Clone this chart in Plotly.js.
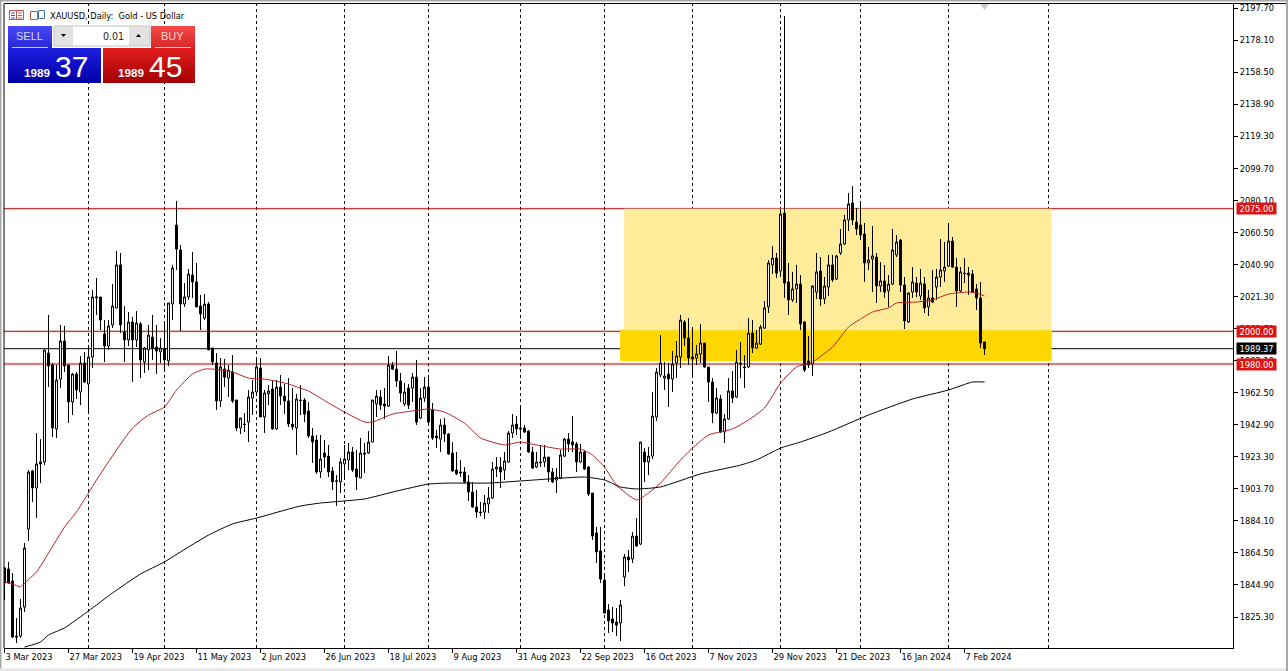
<!DOCTYPE html>
<html><head><meta charset="utf-8">
<script src="https://cdn.plot.ly/plotly-3.0.1.min.js"></script>
<style>html,body{margin:0;padding:0;background:#fff;overflow:hidden}#c{width:1288px;height:671px}</style>
</head><body><div id="c"></div>
<script>
const highs=[1855.8,1859.0,1852.2,1824.7,1836.3,1870.6,1915.2,1915.2,1937.8,1934.1,
1988.6,2010.0,1980.6,1979.4,2003.9,2003.3,1979.4,1974.5,1975.1,1984.9,
1987.4,1990.4,2025.3,2032.6,2021.0,2006.9,2006.9,2028.9,2049.1,2047.9,
2015.5,2011.8,2008.8,2012.4,2005.7,1990.4,2003.9,2010.0,2003.9,1995.9,
2006.3,2017.3,2040.6,2079.7,2052.8,2029.5,2038.1,2048.5,2041.8,2022.2,
2022.8,2017.9,1989.8,1986.7,1983.7,1983.1,1979.4,1985.5,1958.0,1947.0,
1950.0,1964.1,1970.2,1983.7,1983.7,1964.1,1967.2,1970.2,1970.2,1973.3,
1967.8,1971.4,1965.3,1961.7,1967.2,1959.2,1956.8,1940.9,1936.6,1936.6,
1933.5,1930.5,1917.0,1912.1,1922.5,1930.5,1931.7,1929.3,1927.4,1934.8,
1931.7,1939.0,1958.0,1964.1,1964.1,1965.3,1984.9,1981.2,1988.0,1974.5,
1968.4,1967.8,1974.5,1982.5,1965.3,1972.0,1971.4,1956.2,1939.7,1946.4,
1947.0,1937.8,1932.3,1926.2,1921.3,1917.0,1912.1,1907.9,1903.0,1895.6,
1899.9,1904.8,1920.1,1923.1,1923.1,1926.2,1939.0,1949.4,1948.2,1954.3,
1942.7,1939.7,1929.3,1926.2,1930.5,1930.5,1923.1,1916.4,1916.4,1927.4,
1934.8,1937.8,1948.2,1932.3,1931.1,1927.4,1917.6,1901.1,1880.3,1880.3,
1852.2,1833.2,1831.4,1830.8,1835.7,1863.8,1866.3,1877.3,1885.8,1932.3,
1928.6,1929.3,1962.9,1977.6,1997.7,1981.2,1980.6,1988.0,1994.1,2010.0,
2006.9,2008.1,2002.6,1991.6,2004.5,1992.8,1978.2,1971.4,1965.3,1961.1,
1949.4,1971.4,1975.7,1988.6,1993.5,1985.5,2008.1,2006.9,2000.8,2003.9,
2018.5,2043.6,2052.2,2047.9,2074.8,2192.8,2041.8,2036.3,2040.6,2034.4,
2006.3,1997.1,2028.3,2047.9,2045.4,2033.2,2046.7,2046.7,2046.7,2062.6,
2071.1,2084.6,2088.9,2075.4,2078.5,2066.2,2051.6,2064.4,2047.9,2042.4,
2040.6,2034.4,2062.6,2058.9,2056.4,2033.2,2024.0,2039.3,2033.2,2038.1,
2033.2,2025.3,2037.5,2038.1,2056.4,2054.6,2066.2,2057.7,2044.8,2039.3,
2044.8,2039.3,2037.5,2028.9,2030.2,1993.5];
const lows=[1835.7,1845.5,1812.5,1809.4,1812.5,1828.4,1871.8,1895.6,1885.8,1907.2,
1918.2,1966.0,1935.4,1934.8,1965.3,1975.1,1943.9,1948.8,1958.6,1954.9,
1968.4,1949.4,1977.6,2010.0,2000.8,1981.2,1988.6,2002.0,2014.0,1999.0,
1981.2,1991.0,1969.0,1990.4,1971.4,1974.5,1976.3,1982.5,1973.9,1980.6,
1976.3,1978.8,2006.9,2037.5,2000.2,2014.9,2019.2,2020.4,2014.9,2000.8,
2006.9,1988.6,1979.4,1951.9,1953.7,1966.0,1959.8,1956.2,1939.0,1937.2,
1938.4,1932.3,1948.8,1962.3,1947.6,1937.8,1954.9,1939.7,1939.7,1954.9,
1949.4,1941.5,1939.7,1924.4,1948.8,1944.5,1934.8,1919.5,1912.8,1910.3,
1916.4,1910.9,1903.0,1893.2,1901.1,1909.1,1915.2,1914.0,1903.0,1910.3,
1913.4,1925.0,1932.3,1947.6,1951.9,1946.4,1953.7,1976.3,1966.0,1956.8,
1954.3,1952.5,1956.8,1942.7,1946.4,1956.8,1943.9,1933.5,1928.6,1926.2,
1932.3,1924.4,1914.0,1912.1,1910.9,1907.2,1896.2,1892.0,1885.8,1887.0,
1885.2,1888.9,1897.5,1910.9,1904.2,1909.1,1919.5,1934.8,1936.6,1934.1,
1937.8,1925.6,1915.8,1916.4,1917.0,1917.0,1907.9,1907.2,1901.1,1909.7,
1923.1,1926.2,1926.2,1914.0,1919.5,1915.2,1899.3,1872.4,1858.3,1846.1,
1827.7,1815.5,1816.1,1813.7,1810.6,1844.2,1852.8,1858.3,1868.1,1869.3,
1907.9,1912.1,1921.9,1945.2,1972.0,1964.1,1953.7,1962.9,1971.4,1977.6,
1991.0,1979.4,1972.0,1979.4,1980.6,1977.6,1956.8,1943.9,1949.4,1937.8,
1931.7,1945.8,1956.2,1959.2,1971.4,1965.3,1977.6,1986.7,1989.2,1991.6,
2001.4,2011.2,2035.0,2032.6,2033.2,2020.4,2010.0,2017.9,2017.3,2000.8,
1975.1,1977.6,1972.7,2019.8,2015.5,2016.7,2021.6,2030.2,2031.4,2046.7,
2052.8,2061.3,2065.0,2058.9,2055.8,2030.2,2037.5,2024.0,2017.3,2024.0,
2020.4,2014.9,2028.3,2045.4,2024.0,2001.4,2005.1,2020.4,2021.0,2019.2,
2011.2,2009.4,2017.3,2019.2,2027.1,2030.2,2039.3,2038.7,2014.9,2024.0,
2029.5,2022.2,2023.4,2013.0,1989.8,1985.5];
const opens=[1855.3,1854.6,1847.3,1813.7,1813.7,1831.4,1879.1,1914.6,1904.2,1920.1,
1920.1,1986.7,1979.4,1940.3,1970.8,1994.1,1979.4,1956.8,1973.9,1962.9,
1980.6,1967.8,1984.3,2020.4,2021.0,1998.4,1991.0,2003.9,2014.3,2040.6,
1999.6,1994.7,2005.7,1994.7,2004.5,1981.2,1988.6,1996.5,1990.4,1987.4,
1989.2,1981.9,2016.7,2065.0,2049.7,2016.7,2021.0,2034.4,2030.2,2015.5,
2008.1,2016.7,1989.8,1980.6,1957.4,1976.9,1971.4,1975.1,1958.0,1940.9,
1943.3,1944.5,1959.2,1962.9,1977.6,1947.6,1961.7,1964.7,1940.3,1965.9,
1960.4,1957.4,1943.3,1940.9,1958.0,1958.0,1951.3,1936.0,1933.5,1914.0,
1925.6,1923.7,1914.6,1908.2,1907.9,1918.9,1921.3,1926.2,1915.8,1910.3,
1925.6,1925.6,1932.3,1955.6,1959.8,1955.6,1954.3,1979.4,1976.9,1969.6,
1955.6,1965.3,1965.3,1972.0,1947.0,1959.2,1965.9,1951.9,1936.0,1934.1,
1942.7,1937.2,1925.6,1915.2,1914.0,1914.0,1907.9,1901.7,1892.6,1889.5,
1889.5,1894.4,1898.1,1915.8,1917.0,1915.2,1920.1,1937.8,1943.3,1940.9,
1940.9,1939.0,1926.2,1917.0,1920.1,1920.1,1923.1,1914.0,1909.1,1910.3,
1923.7,1934.1,1932.3,1931.1,1920.1,1926.2,1917.0,1901.1,1876.7,1865.7,
1847.9,1829.6,1824.1,1822.2,1821.6,1849.8,1862.0,1860.8,1874.8,1869.9,
1926.2,1920.1,1923.7,1947.6,1973.3,1971.4,1973.9,1970.8,1980.6,1984.3,
2005.7,1995.9,1984.3,1983.7,1986.1,1992.8,1978.2,1969.0,1950.0,1958.6,
1938.4,1946.4,1963.5,1959.8,1980.6,1978.2,1978.2,1998.9,1989.8,1992.2,
2002.0,2014.9,2040.6,2044.8,2036.9,2072.3,2030.2,2019.2,2025.9,2028.9,
2005.7,1981.9,1980.0,2024.0,2036.9,2019.8,2027.1,2040.6,2032.0,2047.9,
2053.4,2068.1,2078.5,2066.8,2065.0,2059.5,2041.8,2044.2,2045.4,2027.7,
2030.8,2024.7,2028.9,2046.7,2055.8,2028.3,2005.7,2024.0,2029.5,2021.6,
2028.9,2014.9,2020.4,2027.1,2033.2,2036.9,2039.9,2055.2,2039.3,2024.7,
2035.6,2035.6,2035.0,2025.9,2020.4,1993.5];
const closes=[1846.1,1846.1,1813.1,1813.1,1830.8,1867.5,1914.0,1904.2,1918.9,1918.9,
1988.6,1978.8,1940.9,1970.2,1994.1,1978.8,1956.8,1973.9,1964.1,1980.6,
1969.0,1984.3,2021.0,2021.0,2006.9,1991.0,2003.3,2015.5,2040.6,2003.9,
1994.7,2005.7,1994.7,2005.1,1982.5,1989.8,1997.7,1989.8,1988.0,1989.8,
1982.5,2017.3,2038.7,2050.3,2016.7,2021.0,2035.0,2030.2,2014.9,2010.6,
2016.7,1988.6,1981.2,1957.4,1978.2,1972.0,1976.3,1957.4,1940.9,1947.0,
1943.0,1959.8,1962.9,1978.2,1947.6,1962.3,1963.5,1940.3,1965.9,1960.4,
1957.4,1943.3,1941.5,1958.6,1957.7,1949.4,1936.0,1932.3,1914.0,1921.9,
1923.1,1914.0,1907.9,1908.5,1920.1,1921.9,1926.2,1915.2,1910.9,1925.6,
1925.0,1932.3,1958.0,1960.4,1954.9,1954.3,1979.4,1976.9,1969.6,1962.3,
1962.9,1954.9,1972.0,1944.5,1959.2,1965.9,1944.5,1934.8,1934.8,1942.7,
1937.2,1925.0,1914.6,1912.8,1913.4,1907.9,1901.7,1892.6,1889.5,1889.2,
1895.0,1898.1,1915.8,1917.0,1914.0,1920.7,1937.8,1942.7,1940.3,1940.3,
1938.4,1926.2,1916.4,1920.1,1919.7,1923.1,1914.0,1907.9,1910.9,1924.4,
1934.1,1931.1,1930.5,1920.1,1926.2,1915.8,1900.5,1874.8,1865.1,1848.5,
1827.7,1822.9,1821.6,1820.4,1832.6,1862.0,1860.2,1874.8,1868.7,1932.3,
1920.1,1923.7,1948.2,1975.1,1980.6,1972.7,1970.8,1980.0,1984.9,2006.9,
1995.9,1983.7,1983.1,1986.1,1992.8,1978.2,1969.0,1950.0,1959.2,1938.4,
1946.4,1963.5,1959.2,1981.2,1980.2,1977.8,1998.9,1989.8,1992.8,2002.6,
2014.3,2041.8,2044.8,2035.6,2071.7,2029.5,2019.2,2025.9,2028.9,2004.5,
1976.3,1979.4,2027.7,2036.3,2019.8,2027.7,2040.6,2031.4,2046.1,2053.4,
2068.1,2077.9,2068.1,2062.6,2058.9,2041.8,2043.6,2046.1,2027.7,2030.8,
2024.0,2028.9,2049.7,2054.6,2028.3,2006.3,2023.4,2030.2,2024.0,2029.5,
2014.3,2020.4,2017.9,2033.2,2037.5,2039.3,2055.2,2039.3,2024.7,2036.3,
2035.3,2034.4,2024.0,2020.4,1992.8,1989.37];

const redMaBars=[0,2,4,5,8,11,15,18,21,23,28,32,36,40,43,47,50,52,57,61,65,71,73,76,81,85,90,92,97,102,106,110,115,119,125,129,133,139,144,147,150,153,158,161,164,169,172,176,182,186,190,194,198,202,207,211,214,217,221,223,228,232,236,241,243,245];
const redMa=[1846.7,1845.5,1843.7,1846.1,1852.8,1864.4,1880.3,1889.5,1901.1,1909.1,1927.4,1940.9,1948.8,1953.7,1964.1,1973.9,1976.9,1976.9,1975.1,1971.4,1970.8,1967.8,1966.0,1963.5,1956.2,1950.6,1944.5,1944.5,1949.4,1951.3,1952.5,1950.6,1943.9,1934.8,1930.5,1932.3,1930.5,1928.0,1928.0,1924.4,1917.0,1906.0,1896.9,1901.1,1907.2,1921.3,1928.6,1936.6,1940.3,1945.8,1953.1,1968.4,1978.2,1981.2,1990.4,2002.6,2007.5,2011.8,2014.3,2017.3,2017.9,2019.2,2022.8,2024.0,2023.4,2021.6];
const blackMaBars=[5,9,11,15,21,27,34,40,44,51,57,63,71,74,79,90,98,106,111,121,129,136,145,150,154,158,164,174,184,188,194,199,206,216,227,236,242,245];
const blackMa=[1806.9,1810.0,1814.3,1818.6,1829.0,1840.0,1851.6,1859.0,1865.1,1875.4,1882.2,1885.8,1891.3,1893.2,1895.0,1897.5,1902.3,1906.6,1907.2,1907.2,1908.5,1909.7,1910.9,1909.1,1904.8,1903.6,1904.8,1912.8,1918.2,1921.3,1928.6,1932.3,1938.4,1948.8,1958.6,1964.1,1969.0,1969.0];

const dateTickBars=[0,16,32,48,64,80,96,112,128,144,160,176,192,208,224,240];
const dateTickLabels=["3 Mar 2023","27 Mar 2023","19 Apr 2023","11 May 2023","2 Jun 2023","26 Jun 2023","18 Jul 2023","9 Aug 2023","31 Aug 2023","22 Sep 2023","16 Oct 2023","7 Nov 2023","29 Nov 2023","21 Dec 2023","16 Jan 2024","7 Feb 2024"];
const priceTicks=[2197.70,2178.10,2158.50,2138.90,2119.30,2099.70,2080.10,2060.50,2040.90,2021.30,2001.70,1982.10,1962.50,1942.90,1923.30,1903.70,1884.10,1864.50,1844.90,1825.30];
const monthSeparatorBars=[21,40,63,85,106,129,150,172,194,214,236,261];
const redLevels=[2075,2000,1980];
const lastPrice=1989.37;
const upperZone={x0:154.9,x1:261.8,y0:2000,y1:2075};
const lowerZone={x0:153.9,x1:261.8,y0:1981.8,y1:2000.6};

const W=1288,H=671,L=4,R=1233,T=4,B=648;
const px=x=>(x-L)/(R-L), py=y=>1-(y-T)/(B-T);
const bars=closes.map((_,i)=>i);
const FONT='"DejaVu Sans Condensed", "DejaVu Sans", sans-serif';
const PANELFONT='"Liberation Sans", Arial, sans-serif';

const rect=(x0,y0,x1,y1,fill,layer)=>({type:'rect',xref:'paper',yref:'paper',x0:px(x0),x1:px(x1),y0:py(y0),y1:py(y1),fillcolor:fill,line:{width:0},layer:layer||'above'});
const mix=(a,b,t)=>'rgb('+a.map((v,i)=>Math.round(v+(b[i]-v)*t)).join(',')+')';
const grad=(x0,y0,x1,y1,a,b)=>{const o=[];for(let y=y0;y<y1;y++)o.push(rect(x0,y,x1,y+1,mix(a,b,(y-y0)/Math.max(1,y1-y0-1))));return o;};
const stroke=(x0,y0,x1,y1,c,w)=>({type:'line',xref:'paper',yref:'paper',x0:px(x0),x1:px(x1),y0:py(y0),y1:py(y1),line:{color:c,width:w||1},layer:'above'});
const box=(x0,y0,x1,y1,c)=>({type:'rect',xref:'paper',yref:'paper',x0:px(x0),x1:px(x1),y0:py(y0),y1:py(y1),fillcolor:'rgba(0,0,0,0)',line:{color:c,width:1},layer:'above'});

const shapes=[];
shapes.push({type:'rect',xref:'x',yref:'y',x0:upperZone.x0,x1:upperZone.x1,y0:upperZone.y0,y1:upperZone.y1,fillcolor:'#FFEC9A',line:{width:0},layer:'below'});
shapes.push({type:'rect',xref:'x',yref:'y',x0:lowerZone.x0,x1:lowerZone.x1,y0:lowerZone.y0,y1:lowerZone.y1,fillcolor:'#FFD700',line:{width:0},layer:'below'});
monthSeparatorBars.forEach(b=>shapes.push({type:'line',xref:'x',yref:'paper',x0:b,x1:b,y0:0,y1:1,line:{color:'#000',width:1,dash:'3px,3px'},layer:'below'}));
redLevels.forEach(v=>{
  shapes.push({type:'line',xref:'paper',yref:'y',x0:0,x1:1,y0:v,y1:v,line:{color:'rgba(200,60,60,0.16)',width:3},layer:'below'});
  shapes.push({type:'line',xref:'paper',yref:'y',x0:0,x1:1,y0:v,y1:v,line:{color:'#AE2020',width:1},layer:'below'});
});
shapes.push({type:'line',xref:'paper',yref:'y',x0:0,x1:1,y0:lastPrice,y1:lastPrice,line:{color:'#000',width:1},layer:'below'});

// trade panel
shapes.push(rect(52,26,151,48,'#FFFFFF'));
shapes.push(...grad(8,26,52,48,[72,72,245],[40,40,215]));
shapes.push(...grad(8,48,101,83,[30,30,225],[0,0,165]));
shapes.push(...grad(151,26,195,48,[245,72,72],[215,40,40]));
shapes.push(...grad(103,48,195,83,[225,30,30],[165,0,0]));
shapes.push(stroke(12,47.5,48,47.5,'#C8C8FF',1));
shapes.push(stroke(155,47.5,191,47.5,'#FFC8C8',1));
shapes.push(rect(54,26,73,46,'#E2E2E2'));
shapes.push(rect(129,26,150,46,'#E2E2E2'));
shapes.push(box(54,26,150,46,'#C4C4C4'));
shapes.push({type:'path',xref:'paper',yref:'paper',path:`M ${px(61)} ${py(34)} L ${px(66)} ${py(34)} L ${px(63.5)} ${py(37)} Z`,fillcolor:'#000',line:{width:0},layer:'above'});
shapes.push({type:'path',xref:'paper',yref:'paper',path:`M ${px(136)} ${py(37)} L ${px(141)} ${py(37)} L ${px(138.5)} ${py(34)} Z`,fillcolor:'#000',line:{width:0},layer:'above'});
// title icons
shapes.push(box(9.5,10.5,23.5,19.5,'#C05048'));
shapes.push(stroke(16.5,10.5,16.5,19.5,'#C05048',1));
[13,15.5,18].forEach(y=>{shapes.push(stroke(11,y,15,y,'#3060B0',1));shapes.push(stroke(18,y,22,y,'#C05048',1));});
shapes.push(box(30.5,11.5,37.5,19.5,'#C05048'));
shapes.push(box(38.5,10.5,44.5,18.5,'#3C78C0'));
// history marker
shapes.push({type:'path',xref:'paper',yref:'paper',path:`M ${px(980)} ${py(4)} L ${px(989)} ${py(4)} L ${px(984.5)} ${py(10)} Z`,fillcolor:'#C8C8C8',line:{width:0},layer:'above'});
// outer window edges
shapes.push(rect(0,0,1288,1.5,'#A8A8A8'));
shapes.push(rect(0,0,1.5,671,'#A8A8A8'));
shapes.push(rect(0,668.5,1288,671,'#E4E4E4'));
shapes.push(rect(1286,0,1288,671,'#A8A8A8'));
shapes.push(stroke(4,3.5,1286,3.5,'#000',1));
shapes.push({type:'line',xref:'paper',yref:'paper',x0:0,x1:0,y0:0,y1:1,line:{color:'#000',width:1},layer:'above'});

const ann=(x,y,text,size,color,anchor,family)=>({xref:'paper',yref:'paper',x:px(x),y:py(y),text,showarrow:false,xanchor:anchor||'left',yanchor:'middle',font:{size,color,family:family||FONT},borderpad:0,borderwidth:0});
const annotations=[
 ann(50,15.5,'XAUUSD, Daily:  Gold - US Dollar',9.2,'#000'),
 ann(29.5,36.5,'SELL',11,'#D8D8FF','center',PANELFONT),
 ann(172.5,36.5,'BUY',11,'#FFD8D8','center',PANELFONT),
 ann(124.5,36,'0.01',10.5,'#222','right'),
 ann(24,72.5,'<b>1989</b>',11.7,'#FFF','left',PANELFONT),
 ann(118,72.5,'<b>1989</b>',11.7,'#FFF','left',PANELFONT),
 ann(54.5,66,'37',30,'#FFF','left',PANELFONT),
 ann(148.5,66,'45',30,'#FFF','left',PANELFONT)
];
const priceBox=(v,bg)=>({xref:'paper',yref:'y',x:px(1236),y:v,xanchor:'left',yanchor:'middle',text:v.toFixed(2),showarrow:false,width:39,height:11,bgcolor:bg,align:'center',font:{size:9.2,color:'#FFF',family:FONT},borderpad:0});
redLevels.forEach(v=>annotations.push(priceBox(v,'#DC1414')));
annotations.push(priceBox(lastPrice,'#000000'));

const traces=[
 {type:'scatter',mode:'lines',x:redMaBars,y:redMa,line:{color:'#B22222',width:1,shape:'spline',smoothing:0.5},hoverinfo:'skip',showlegend:false},
 {type:'scatter',mode:'lines',x:blackMaBars,y:blackMa,line:{color:'#000',width:1,shape:'spline',smoothing:0.5},hoverinfo:'skip',showlegend:false},
 {type:'candlestick',x:bars,open:opens,high:highs,low:lows,close:closes,whiskerwidth:0,
  increasing:{line:{color:'#000',width:1},fillcolor:'#FFFFFF'},
  decreasing:{line:{color:'#000',width:1},fillcolor:'#000000'},showlegend:false}
];
const tickFont={size:9.2,color:'#000',family:FONT};
const layout={width:W,height:H,autosize:false,paper_bgcolor:'#fff',plot_bgcolor:'#fff',showlegend:false,
 margin:{l:L,r:W-R,t:T,b:H-B,pad:0},font:{family:FONT,size:10,color:'#000'},
 xaxis:{type:'linear',range:[(L-4.5)/4,(R-4.5)/4],rangeslider:{visible:false},showgrid:false,zeroline:false,showline:true,linecolor:'#000',linewidth:1,mirror:false,
  tickmode:'array',tickvals:dateTickBars,ticktext:dateTickLabels,ticks:'outside',ticklen:4,tickcolor:'#000',tickwidth:1,ticklabelposition:'outside right',tickangle:0,tickfont:tickFont,fixedrange:true},
 yaxis:{side:'right',range:[2202.6-0.6115*B,2202.6-0.6115*T],showgrid:false,zeroline:false,showline:true,linecolor:'#000',linewidth:1,
  tickmode:'array',tickvals:priceTicks,ticktext:priceTicks.map(v=>v.toFixed(2)),ticks:'outside',ticklen:4,tickcolor:'#000',tickwidth:1,tickfont:tickFont,fixedrange:true},
 shapes,annotations};
Plotly.newPlot('c',traces,layout,{displayModeBar:false,staticPlot:true});
</script></body></html>
